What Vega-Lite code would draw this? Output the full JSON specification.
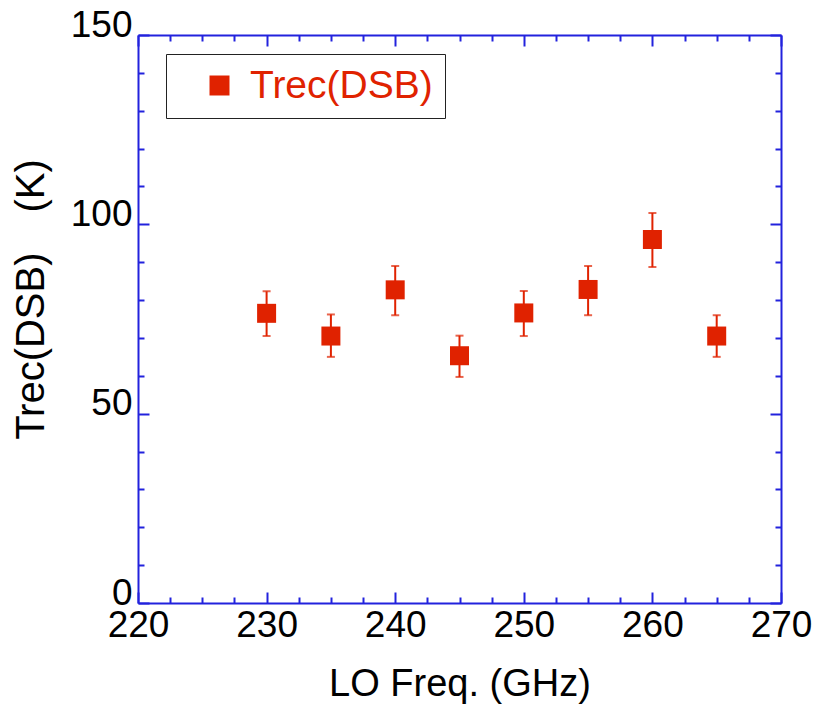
{
  "$schema": "https://vega.github.io/schema/vega-lite/v6.json",
  "width": 643,
  "height": 568,
  "autosize": {"type": "none"},
  "padding": {"left": 138, "top": 35, "right": 33, "bottom": 101},
  "background": "white",
  "config": {"view": {"stroke": null}},
  "data": {"values": [
    {"freq": 230, "trec": 76.5, "lo": 70.5, "hi": 82.3, "series": "Trec(DSB)"},
    {"freq": 235, "trec": 70.5, "lo": 65.0, "hi": 76.2, "series": "Trec(DSB)"},
    {"freq": 240, "trec": 82.7, "lo": 76.0, "hi": 89.0, "series": "Trec(DSB)"},
    {"freq": 245, "trec": 65.3, "lo": 59.7, "hi": 70.6, "series": "Trec(DSB)"},
    {"freq": 250, "trec": 76.6, "lo": 70.5, "hi": 82.4, "series": "Trec(DSB)"},
    {"freq": 255, "trec": 82.8, "lo": 76.0, "hi": 89.0, "series": "Trec(DSB)"},
    {"freq": 260, "trec": 96.0, "lo": 88.7, "hi": 103.0, "series": "Trec(DSB)"},
    {"freq": 265, "trec": 70.5, "lo": 65.0, "hi": 76.0, "series": "Trec(DSB)"}
  ]},
  "resolve": {"axis": {"x": "independent", "y": "independent"}},
  "layer": [
    {
      "mark": {"type": "rule", "color": "#e02200", "strokeWidth": 2},
      "encoding": {
        "x": {"field": "freq", "type": "quantitative", "scale": {"domain": [220, 270], "nice": false, "zero": false},
          "axis": {"orient": "bottom", "title": "LO Freq. (GHz)",
            "values": [220, 230, 240, 250, 260, 270],
            "format": "d",
            "grid": false, "domainColor": "#2222dd", "domainWidth": 2, "tickColor": "#2222dd", "tickWidth": 2,
            "tickSize": -11,
            "labelPadding": 15, "labelFont": "Liberation Sans, Arial, sans-serif", "labelFontSize": 37, "labelColor": "black",
            "labelOverlap": false, "labelFlush": false, "labelBound": false,
            "titleFont": "Liberation Sans, Arial, sans-serif", "titleFontSize": 38, "titleFontWeight": "normal", "titleColor": "black", "titlePadding": 22}},
        "y": {"field": "lo", "type": "quantitative", "scale": {"domain": [0, 150], "nice": false},
          "axis": {"orient": "left", "title": "Trec(DSB)\u3000(K)",
            "values": [0, 50, 100, 150],
            "grid": false, "domainColor": "#2222dd", "domainWidth": 2, "tickColor": "#2222dd", "tickWidth": 2,
            "tickSize": -11,
            "labelPadding": 17, "labelOffset": -10, "labelFont": "Liberation Sans, Arial, sans-serif", "labelFontSize": 37, "labelColor": "black",
            "labelOverlap": false, "labelFlush": false, "labelBound": false,
            "titleFont": "Liberation Sans, Arial, sans-serif", "titleFontSize": 40, "titleFontWeight": "normal", "titleColor": "black", "titlePadding": 19, "titleY": 264}},
        "y2": {"field": "hi"}
      }
    },
    {
      "mark": {"type": "tick", "orient": "horizontal", "color": "#e02200", "size": 8, "thickness": 2},
      "encoding": {
        "x": {"field": "freq", "type": "quantitative",
          "axis": {"orient": "bottom", "title": null, "labels": false, "domain": false, "grid": false,
            "values": [222.5,225,227.5,232.5,235,237.5,242.5,245,247.5,252.5,255,257.5,262.5,265,267.5],
            "tickColor": "#2222dd", "tickWidth": 2, "tickSize": -6}},
        "y": {"field": "lo", "type": "quantitative",
          "axis": {"orient": "left", "title": null, "labels": false, "domain": false, "grid": false,
            "values": [10,20,30,40,60,70,80,90,110,120,130,140],
            "tickColor": "#2222dd", "tickWidth": 2, "tickSize": -6}}
      }
    },
    {
      "mark": {"type": "tick", "orient": "horizontal", "color": "#e02200", "size": 8, "thickness": 2},
      "encoding": {
        "x": {"field": "freq", "type": "quantitative",
          "axis": {"orient": "top", "title": null, "labels": false, "domain": false, "grid": false,
            "values": [222.5,225,227.5,232.5,235,237.5,242.5,245,247.5,252.5,255,257.5,262.5,265,267.5],
            "tickColor": "#2222dd", "tickWidth": 2, "tickSize": -6}},
        "y": {"field": "hi", "type": "quantitative",
          "axis": {"orient": "right", "title": null, "labels": false, "domain": false, "grid": false,
            "values": [10,20,30,40,60,70,80,90,110,120,130,140],
            "tickColor": "#2222dd", "tickWidth": 2, "tickSize": -6}}
      }
    },
    {
      "mark": {"type": "point", "shape": "square", "filled": true, "size": 361, "opacity": 1},
      "encoding": {
        "x": {"field": "freq", "type": "quantitative",
          "axis": {"orient": "top", "title": null, "labels": false,
            "values": [220, 230, 240, 250, 260, 270],
            "grid": false, "domainColor": "#2222dd", "domainWidth": 2, "tickColor": "#2222dd", "tickWidth": 2,
            "tickSize": -11}},
        "y": {"field": "trec", "type": "quantitative",
          "axis": {"orient": "right", "title": null, "labels": false,
            "values": [0, 50, 100, 150],
            "grid": false, "domainColor": "#2222dd", "domainWidth": 2, "tickColor": "#2222dd", "tickWidth": 2,
            "tickSize": -11}},
        "color": {"field": "series", "type": "nominal", "scale": {"range": ["#e02200"]},
          "legend": {"title": null, "orient": "none", "legendX": 28, "legendY": 19,
            "symbolType": "square", "symbolSize": 400, "symbolStrokeWidth": 0, "symbolOffset": 22,
            "labelFont": "Liberation Sans, Arial, sans-serif", "labelFontSize": 39, "labelColor": "#e02200", "labelOffset": 11, "labelLimit": 400,
            "padding": 12, "strokeColor": "#222222", "fillColor": "white"}}
      }
    }
  ]
}
